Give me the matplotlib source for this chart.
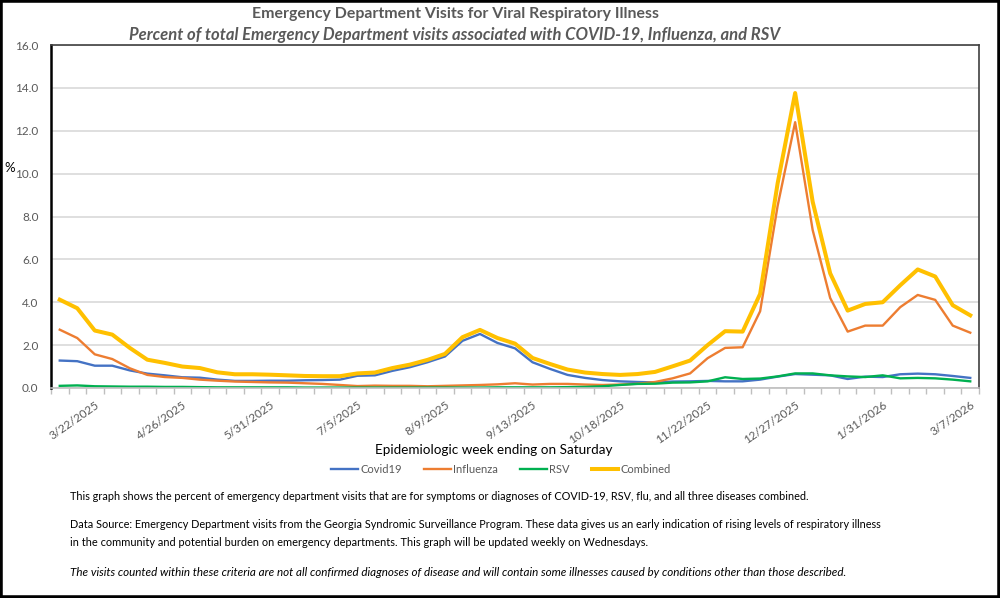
import numpy as np
import pandas as pd
import matplotlib
matplotlib.use("Agg")
import matplotlib.pyplot as plt
from matplotlib.patches import Rectangle

plt.rcParams['font.family'] = ['Lato', 'DejaVu Sans']

# weekly data, week ending on Saturday
weeks = [d.strftime("%-m/%-d/%Y") for d in pd.date_range("2025-03-08", periods=53, freq="7D")]
tick_labels = ["3/22/2025", "4/26/2025", "5/31/2025", "7/5/2025", "8/9/2025", "9/13/2025",
               "10/18/2025", "11/22/2025", "12/27/2025", "1/31/2026", "3/7/2026"]

covid = [1.28, 1.25, 1.04, 1.04, 0.82, 0.67, 0.59, 0.50, 0.48, 0.39, 0.33, 0.33, 0.34, 0.34,
         0.36, 0.37, 0.39, 0.57, 0.59, 0.80, 0.97, 1.20, 1.47, 2.20, 2.52, 2.10, 1.85,
         1.20, 0.89, 0.61, 0.47, 0.37, 0.31, 0.28, 0.26, 0.30, 0.31, 0.33, 0.31, 0.31, 0.39,
         0.53, 0.65, 0.62, 0.59, 0.42, 0.53, 0.51, 0.64, 0.67, 0.64, 0.56, 0.47]
influenza = [2.72, 2.33, 1.57, 1.35, 0.92, 0.61, 0.51, 0.47, 0.39, 0.34, 0.30, 0.28, 0.26, 0.25,
             0.22, 0.19, 0.14, 0.09, 0.11, 0.10, 0.10, 0.08, 0.10, 0.12, 0.14, 0.17, 0.22, 0.16,
             0.19, 0.19, 0.16, 0.14, 0.16, 0.20, 0.28, 0.45, 0.68, 1.39, 1.87, 1.90, 3.58, 8.50,
             12.40, 7.37, 4.20, 2.63, 2.91, 2.91, 3.77, 4.34, 4.11, 2.91, 2.58]
rsv = [0.10, 0.12, 0.08, 0.07, 0.06, 0.06, 0.05, 0.05, 0.04, 0.03, 0.03, 0.03, 0.03, 0.03,
       0.02, 0.02, 0.02, 0.02, 0.02, 0.02, 0.02, 0.02, 0.02, 0.02, 0.02, 0.03, 0.03, 0.03,
       0.03, 0.04, 0.05, 0.08, 0.14, 0.19, 0.20, 0.25, 0.26, 0.31, 0.50, 0.42, 0.44, 0.54,
       0.68, 0.68, 0.59, 0.54, 0.51, 0.59, 0.45, 0.47, 0.45, 0.39, 0.31]
combined = [4.12, 3.72, 2.68, 2.49, 1.87, 1.32, 1.17, 1.00, 0.93, 0.73, 0.64, 0.64, 0.62, 0.59,
            0.56, 0.55, 0.55, 0.68, 0.72, 0.93, 1.09, 1.31, 1.59, 2.37, 2.71, 2.33, 2.07, 1.40,
            1.12, 0.86, 0.72, 0.65, 0.61, 0.65, 0.75, 1.01, 1.28, 2.00, 2.65, 2.63, 4.39, 9.55,
            13.76, 8.69, 5.35, 3.61, 3.92, 4.00, 4.79, 5.53, 5.20, 3.86, 3.39]

x = np.arange(len(weeks))
tick_pos = [weeks.index(l) for l in tick_labels]

fig = plt.figure(figsize=(10, 5.98), dpi=100)
ax = fig.add_axes([0.051, 0.3512, 0.928, 0.5735])

ax.plot(x, covid, color="#4472C4", lw=1.7, label="Covid19")
ax.plot(x, influenza, color="#ED7D31", lw=1.7, label="Influenza")
ax.plot(x, rsv, color="#00B050", lw=1.7, label="RSV")
ax.plot(x, combined, color="#FFC000", lw=2.9, label="Combined")

ax.set_xlim(-0.5, len(weeks) - 0.5)
ax.set_ylim(0, 16)
ax.set_yticks(np.arange(0, 16.1, 2))
ax.set_yticklabels(["%.1f" % v for v in np.arange(0, 16.1, 2)])
ax.grid(axis="y", color="#D9D9D9", lw=1.2)
ax.set_axisbelow(True)
ax.tick_params(axis="y", length=0, pad=9, labelsize=8.5, labelcolor="#595959")

ax.set_xticks(tick_pos)
ax.set_xticklabels(tick_labels, rotation=35, ha="right", va="top", rotation_mode="anchor",
                   fontsize=8.5, color="#595959")
ax.set_xticks(np.arange(-0.5, len(weeks)), minor=True)
ax.tick_params(axis="x", which="major", length=0, pad=8)
ax.tick_params(axis="x", which="minor", length=4, color="#BFBFBF", width=1)

for s in ["top", "right"]:
    ax.spines[s].set_color("#404040")
    ax.spines[s].set_linewidth(1.2)
ax.spines["left"].set_color("black")
ax.spines["left"].set_linewidth(1.8)
ax.spines["bottom"].set_color("#BFBFBF")
ax.spines["bottom"].set_linewidth(1.2)

renderer = fig.canvas.get_renderer()

def fit(t, width_px):
    # scale the font so the text covers the same width as in the source picture
    w = t.get_window_extent(renderer=renderer).width
    t.set_fontsize(t.get_fontsize() * width_px / w)
    return t

fit(fig.text(0.455, 1 - 14 / 598, "Emergency Department Visits for Viral Respiratory Illness",
             ha="center", va="center", fontsize=12, fontweight="bold", color="#595959"), 405)
fit(fig.text(0.455, 1 - 35 / 598,
             "Percent of total Emergency Department visits associated with COVID-19, Influenza, and RSV",
             ha="center", va="center", fontsize=12, fontweight="bold", style="italic",
             color="#595959"), 649)
fig.text(0.010, 1 - 168 / 598, "%", ha="center", va="center", fontsize=9.5)
fit(fig.text(0.494, 1 - 450 / 598, "Epidemiologic week ending on Saturday",
             ha="center", va="center", fontsize=11), 236)

fig.legend(loc="center", bbox_to_anchor=(0.501, 1 - 469 / 598), ncol=4, frameon=False,
           fontsize=8, labelcolor="#595959", handlelength=2.4, columnspacing=2.0,
           handletextpad=0.2)

notes = [
    (497, 740, "This graph shows the percent of emergency department visits that are for symptoms or diagnoses of COVID-19, RSV, flu, and all three diseases combined.", "normal"),
    (525, 813, "Data Source: Emergency Department visits from the Georgia Syndromic Surveillance Program. These data gives us an early indication of rising levels of respiratory illness", "normal"),
    (543, 577, "in the community and potential burden on emergency departments. This graph will be updated weekly on Wednesdays.", "normal"),
    (572, 775, "The visits counted within these criteria are not all confirmed diagnoses of disease and will contain some illnesses caused by conditions other than those described.", "italic"),
]
for ypix, wpix, txt, st in notes:
    fit(fig.text(0.070, 1 - ypix / 598, txt, ha="left", va="center", fontsize=9, style=st), wpix)

fig.patches.append(Rectangle((0, 0), 1, 1, transform=fig.transFigure, fill=False,
                             edgecolor="black", lw=4))

fig.savefig("out.png", dpi=100)
